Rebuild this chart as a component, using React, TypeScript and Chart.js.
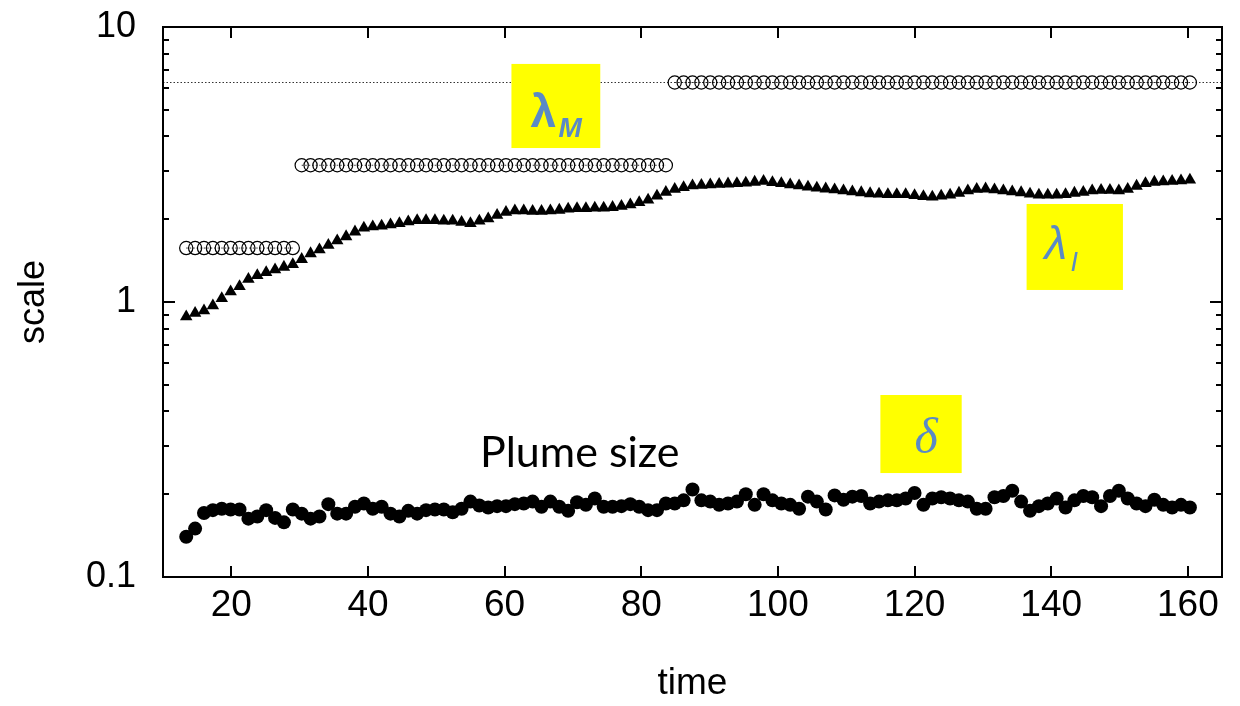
import React, { useEffect, useRef } from "react";
import { Chart, registerables } from "chart.js";

Chart.register(...registerables);

// ---- data ----
const times = [
  13.4, 14.7, 16.0, 17.3, 18.6, 19.9, 21.2, 22.5, 23.8, 25.1,
  26.4, 27.7, 29.0, 30.3, 31.6, 32.9, 34.2, 35.5, 36.8, 38.1,
  39.4, 40.7, 42.0, 43.3, 44.6, 45.9, 47.2, 48.5, 49.8, 51.1,
  52.4, 53.7, 55.0, 56.3, 57.6, 58.9, 60.2, 61.5, 62.8, 64.1,
  65.4, 66.7, 68.0, 69.3, 70.6, 71.9, 73.2, 74.5, 75.8, 77.1,
  78.4, 79.7, 81.0, 82.3, 83.6, 84.9, 86.2, 87.5, 88.8, 90.1,
  91.4, 92.7, 94.0, 95.3, 96.6, 97.9, 99.2, 100.5, 101.8, 103.1,
  104.4, 105.7, 107.0, 108.3, 109.6, 110.9, 112.2, 113.5, 114.8, 116.1,
  117.4, 118.7, 120.0, 121.3, 122.6, 123.9, 125.2, 126.5, 127.8, 129.1,
  130.4, 131.7, 133.0, 134.3, 135.6, 136.9, 138.2, 139.5, 140.8, 142.1,
  143.4, 144.7, 146.0, 147.3, 148.6, 149.9, 151.2, 152.5, 153.8, 155.1,
  156.4, 157.7, 159.0, 160.3,
];

const lambdaM = [
  1.571, 1.571, 1.571, 1.571, 1.571, 1.571, 1.571, 1.571, 1.571, 1.571,
  1.571, 1.571, 1.571, 3.142, 3.142, 3.142, 3.142, 3.142, 3.142, 3.142,
  3.142, 3.142, 3.142, 3.142, 3.142, 3.142, 3.142, 3.142, 3.142, 3.142,
  3.142, 3.142, 3.142, 3.142, 3.142, 3.142, 3.142, 3.142, 3.142, 3.142,
  3.142, 3.142, 3.142, 3.142, 3.142, 3.142, 3.142, 3.142, 3.142, 3.142,
  3.142, 3.142, 3.142, 3.142, 3.142, 6.283, 6.283, 6.283, 6.283, 6.283,
  6.283, 6.283, 6.283, 6.283, 6.283, 6.283, 6.283, 6.283, 6.283, 6.283,
  6.283, 6.283, 6.283, 6.283, 6.283, 6.283, 6.283, 6.283, 6.283, 6.283,
  6.283, 6.283, 6.283, 6.283, 6.283, 6.283, 6.283, 6.283, 6.283, 6.283,
  6.283, 6.283, 6.283, 6.283, 6.283, 6.283, 6.283, 6.283, 6.283, 6.283,
  6.283, 6.283, 6.283, 6.283, 6.283, 6.283, 6.283, 6.283, 6.283, 6.283,
  6.283, 6.283, 6.283, 6.283,
];

const lambdaI = [
  0.885, 0.91, 0.93, 0.97, 1.03, 1.09, 1.14, 1.21, 1.25, 1.28,
  1.31, 1.34, 1.37, 1.43, 1.50, 1.55, 1.61, 1.67, 1.73, 1.80,
  1.86, 1.88, 1.89, 1.91, 1.93, 1.96, 1.98, 1.98, 1.98, 1.97,
  1.97, 1.95, 1.93, 1.97, 2.01, 2.07, 2.12, 2.15, 2.15, 2.14,
  2.14, 2.15, 2.16, 2.18, 2.19, 2.19, 2.20, 2.20, 2.21, 2.23,
  2.26, 2.30, 2.35, 2.43, 2.51, 2.57, 2.61, 2.65, 2.66, 2.67,
  2.68, 2.69, 2.70, 2.71, 2.73, 2.75, 2.72, 2.70, 2.67, 2.65,
  2.62, 2.60, 2.58, 2.56, 2.54, 2.52, 2.50, 2.48, 2.47, 2.46,
  2.46, 2.46, 2.44, 2.42, 2.41, 2.43, 2.45, 2.49, 2.54, 2.57,
  2.58, 2.56, 2.54, 2.52, 2.50, 2.47, 2.45, 2.45, 2.45, 2.46,
  2.49, 2.51, 2.54, 2.55, 2.55, 2.54, 2.57, 2.64, 2.70, 2.73,
  2.74, 2.75, 2.76, 2.78,
];

const delta = [
  0.140, 0.150, 0.171, 0.175, 0.177, 0.176, 0.176, 0.163, 0.166, 0.175,
  0.164, 0.158, 0.176, 0.170, 0.163, 0.166, 0.184, 0.170, 0.170, 0.180,
  0.185, 0.177, 0.180, 0.170, 0.166, 0.174, 0.170, 0.175, 0.176, 0.176,
  0.172, 0.177, 0.188, 0.182, 0.179, 0.181, 0.181, 0.184, 0.185, 0.188,
  0.180, 0.188, 0.180, 0.174, 0.187, 0.183, 0.193, 0.180, 0.180, 0.181,
  0.184, 0.180, 0.175, 0.175, 0.185, 0.185, 0.190, 0.208, 0.190, 0.188,
  0.183, 0.185, 0.188, 0.200, 0.183, 0.200, 0.190, 0.185, 0.183, 0.177,
  0.196, 0.188, 0.176, 0.198, 0.191, 0.196, 0.197, 0.185, 0.188, 0.190,
  0.190, 0.193, 0.202, 0.183, 0.193, 0.195, 0.193, 0.190, 0.188, 0.177,
  0.177, 0.195, 0.197, 0.206, 0.188, 0.174, 0.181, 0.185, 0.193, 0.179,
  0.190, 0.197, 0.195, 0.181, 0.197, 0.206, 0.193, 0.185, 0.181, 0.191,
  0.183, 0.179, 0.183, 0.179,
];

const xRange = [10, 165];
const yRange = [0.1, 10];
const xTicks = [20, 40, 60, 80, 100, 120, 140, 160];
const yMajorTicks = [0.1, 1, 10];
const yMinorTicks = [0.2, 0.3, 0.4, 0.5, 0.6, 0.7, 0.8, 0.9, 2, 3, 4, 5, 6, 7, 8, 9];
const refLineX = [10, 165];
const refLineY = 6.283;

const BLUE = "#5A8AC6";
const YELLOW = "#FFFF00";

// label boxes in data coordinates: [xMin, xMax, yMin, yMax]
const boxLambdaM = [61.0, 74.0, 3.63, 7.34];
const boxLambdaI = [136.4, 150.5, 1.106, 2.272];
const boxDelta = [115.0, 126.9, 0.2388, 0.459];
const plumeLabel = { x: 71.0, y: 0.252, text: "Plume size" };

const toXY = (vals: number[]) => vals.map((v, i) => ({ x: times[i], y: v }));

const framePlugin = {
  id: "frame",
  afterDatasetsDraw(chart: any) {
    const { ctx, chartArea, scales } = chart;
    const { left, right, top, bottom } = chartArea;
    const x = scales.x;
    const y = scales.y;
    ctx.save();
    ctx.strokeStyle = "#000";
    ctx.lineWidth = 2;
    ctx.beginPath();
    for (const v of xTicks) {
      const px = Math.round(x.getPixelForValue(v));
      ctx.moveTo(px, bottom);
      ctx.lineTo(px, bottom - 11);
      ctx.moveTo(px, top);
      ctx.lineTo(px, top + 11);
    }
    for (const v of yMajorTicks) {
      const py = Math.round(y.getPixelForValue(v));
      ctx.moveTo(left, py);
      ctx.lineTo(left + 12, py);
      ctx.moveTo(right, py);
      ctx.lineTo(right - 12, py);
    }
    for (const v of yMinorTicks) {
      const py = Math.round(y.getPixelForValue(v));
      ctx.moveTo(left, py);
      ctx.lineTo(left + 6, py);
      ctx.moveTo(right, py);
      ctx.lineTo(right - 6, py);
    }
    ctx.stroke();
    ctx.strokeRect(left, top, right - left, bottom - top);
    ctx.restore();
  },
};

const labelPlugin = {
  id: "labels",
  afterDraw(chart: any) {
    const { ctx, scales } = chart;
    const x = scales.x;
    const y = scales.y;
    const box = (b: number[]) => {
      const x0 = x.getPixelForValue(b[0]);
      const x1 = x.getPixelForValue(b[1]);
      const y0 = y.getPixelForValue(b[3]);
      const y1 = y.getPixelForValue(b[2]);
      ctx.fillStyle = YELLOW;
      ctx.fillRect(x0, y0, x1 - x0, y1 - y0);
      return { x0, x1, y0, y1, cx: (x0 + x1) / 2, cy: (y0 + y1) / 2 };
    };
    ctx.save();
    ctx.textBaseline = "alphabetic";
    ctx.textAlign = "left";

    // lambda_M
    const bm = box(boxLambdaM);
    ctx.fillStyle = BLUE;
    ctx.font = "bold 46px 'Liberation Sans', Arial, sans-serif";
    ctx.fillText("λ", bm.x0 + 19, bm.y0 + 63);
    ctx.font = "italic bold 28px 'Liberation Sans', Arial, sans-serif";
    ctx.fillText("M", bm.x0 + 47, bm.y0 + 73);

    // lambda_I
    const bi = box(boxLambdaI);
    ctx.fillStyle = BLUE;
    ctx.font = "italic 46px 'Liberation Sans', Arial, sans-serif";
    ctx.fillText("λ", bi.x0 + 18, bi.y0 + 55);
    ctx.font = "italic 27px 'Liberation Sans', Arial, sans-serif";
    ctx.fillText("I", bi.x0 + 44, bi.y0 + 67);

    // delta
    const bd = box(boxDelta);
    ctx.fillStyle = BLUE;
    ctx.font = "italic 50px 'Liberation Serif', 'Times New Roman', serif";
    ctx.textAlign = "center";
    ctx.fillText("δ", bd.cx + 5, bd.y0 + 58);

    // Plume size
    ctx.fillStyle = "#000";
    ctx.font = "43px Lato, 'Open Sans', sans-serif";
    ctx.textAlign = "center";
    ctx.fillText(plumeLabel.text, x.getPixelForValue(plumeLabel.x), y.getPixelForValue(plumeLabel.y));
    ctx.restore();
  },
};

export default function App() {
  const canvasRef = useRef<HTMLCanvasElement | null>(null);

  useEffect(() => {
    if (!canvasRef.current) return;
    const tickFontX = { family: "'Liberation Sans Narrow', 'Liberation Sans', Arial, sans-serif", size: 37 };
    const tickFontY = { family: "'Liberation Sans', Arial, sans-serif", size: 36 };
    const chart = new Chart(canvasRef.current, {
      type: "line",
      data: {
        datasets: [
          {
            label: "delta",
            data: toXY(delta),
            showLine: false,
            pointStyle: "circle",
            pointRadius: 7,
            pointBackgroundColor: "#000",
            pointBorderColor: "#000",
            pointBorderWidth: 0,
          },
          {
            label: "lambdaI",
            data: toXY(lambdaI),
            showLine: false,
            pointStyle: "triangle",
            pointRadius: 7.2,
            pointBackgroundColor: "#000",
            pointBorderColor: "#000",
            pointBorderWidth: 0,
          },
          {
            label: "lambdaM",
            data: toXY(lambdaM),
            showLine: true,
            borderColor: "#333",
            borderWidth: 1,
            borderDash: [1.5, 2],
            segment: {
              borderColor: (c: any) =>
                c.p0.parsed.y !== c.p1.parsed.y ? "rgba(0,0,0,0)" : "#333",
            },
            pointStyle: "circle",
            pointRadius: 6.6,
            pointBackgroundColor: "rgba(0,0,0,0)",
            pointBorderColor: "#000",
            pointBorderWidth: 1.2,
          },
          {
            label: "ref",
            data: refLineX.map((v) => ({ x: v, y: refLineY })),
            showLine: true,
            borderColor: "#333",
            borderWidth: 1,
            borderDash: [1.5, 2],
            pointRadius: 0,
          },
        ],
      } as any,
      options: {
        animation: false,
        responsive: false,
        maintainAspectRatio: false,
        layout: { padding: { left: 0, right: 18, top: 27, bottom: 0 } },
        plugins: { legend: { display: false }, tooltip: { enabled: false } },
        scales: {
          x: {
            type: "linear",
            min: xRange[0],
            max: xRange[1],
            afterBuildTicks: (s: any) => {
              s.ticks = xTicks.map((v) => ({ value: v }));
            },
            afterFit: (s: any) => {
              s.height = 129;
              s.paddingLeft = 0;
              s.paddingRight = 0;
            },
            grid: { display: false, drawTicks: false },
            border: { display: false },
            ticks: {
              font: tickFontX,
              color: "#000",
              padding: 7,
              maxRotation: 0,
              autoSkip: false,
            },
            title: {
              display: true,
              text: "time",
              color: "#000",
              font: tickFontX,
              padding: { top: 0, bottom: 0 },
            },
          },
          y: {
            type: "logarithmic",
            min: yRange[0],
            max: yRange[1],
            afterBuildTicks: (s: any) => {
              s.ticks = yMajorTicks.map((v) => ({ value: v }));
            },
            afterFit: (s: any) => {
              s.width = 163;
              s.paddingTop = 0;
              s.paddingBottom = 0;
            },
            grid: { display: false, drawTicks: false },
            border: { display: false },
            ticks: {
              font: tickFontY,
              color: "#000",
              padding: 27,
              autoSkip: false,
              callback: (v: any) => String(v),
            },
            title: {
              display: true,
              text: "scale",
              color: "#000",
              font: tickFontY,
              padding: { top: 12, bottom: 0 },
            },
          },
        },
      } as any,
      plugins: [framePlugin, labelPlugin],
    });
    return () => chart.destroy();
  }, []);

  return (
    <div style={{ position: "absolute", left: 0, top: 0, width: 1240, height: 706, background: "#fff" }}>
      <canvas ref={canvasRef} width={1240} height={706} style={{ width: 1240, height: 706 }} />
    </div>
  );
}
